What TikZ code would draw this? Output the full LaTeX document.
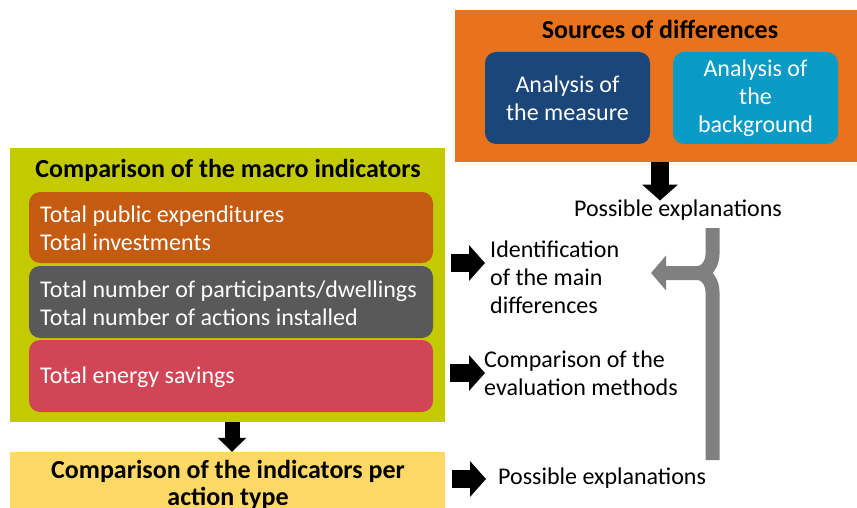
\documentclass[tikz,border=0pt]{standalone}
\usepackage{fontspec}
\setmainfont{Carlito}
\usetikzlibrary{arrows.meta}
\definecolor{cOrange}{HTML}{E8731C}
\definecolor{cBlue}{HTML}{1B4679}
\definecolor{cCyan}{HTML}{079BC5}
\definecolor{cGreen}{HTML}{C3CB00}
\definecolor{cBrown}{HTML}{C55A11}
\definecolor{cGray}{HTML}{595959}
\definecolor{cRed}{HTML}{D14557}
\definecolor{cYellow}{HTML}{FED966}
\definecolor{cArrow}{HTML}{808080}
\begin{document}
\begin{tikzpicture}[x=1pt,y=-1pt,
  txt/.style={font=\fontsize{24}{28}\selectfont, inner sep=0pt, align=left},
  ttl/.style={font=\fontsize{26}{27}\selectfont\bfseries, inner sep=0pt, align=center},
  panel/.style={draw=none, inner sep=0pt},
  rbox/.style={draw=none, inner sep=0pt, rounded corners=11pt, minimum width=404pt},
  blk/.style={draw=black, line width=18pt, -{Triangle[width=35pt,length=16pt]}},
  blks/.style={draw=black, line width=15pt, -{Triangle[width=28pt,length=14pt]}},
  gbar/.style={draw=cArrow, line width=14pt}
]
\useasboundingbox (0,0) rectangle (857,508);
\fill[white] (0,0) rectangle (857,508);

% sources of differences
\node[panel, fill=cOrange, minimum width=402pt, minimum height=152pt] (src) at (656,86) {};
\node[ttl] (srct) at (660,29) {Sources of differences};
\node[rbox, fill=cBlue, minimum width=165pt, minimum height=92pt] (meas) at (567.5,98) {};
\node[txt, align=center, text=white] (meast) at (meas.center) {Analysis of\\the measure};
\node[rbox, fill=cCyan, minimum width=165pt, minimum height=92pt] (back) at (755.5,98) {};
\node[txt, align=center, text=white] (backt) at (back.center) {Analysis of\\the\\background};

% macro indicators
\node[panel, fill=cGreen, minimum width=435pt, minimum height=274pt] (macro) at (227.5,285) {};
\node[ttl] (macrot) at (228,170) {Comparison of the macro indicators};
\node[rbox, fill=cBrown, minimum height=71pt] (r1) at (231,227.5) {};
\node[txt, text=white, anchor=west] (r1t) at (40,228) {Total public expenditures\\Total investments};
\node[rbox, fill=cGray, minimum height=72pt] (r2) at (231,302) {};
\node[txt, text=white, anchor=west] (r2t) at (40,303) {Total number of participants/dwellings\\Total number of actions installed};
\node[rbox, fill=cRed, minimum height=72pt] (r3) at (231,376) {};
\node[txt, text=white, anchor=west] (r3t) at (40,377) {Total energy savings};

% per action type
\node[panel, fill=cYellow, minimum width=435pt, minimum height=62pt] (act) at (227.5,483) {};
\node[ttl] (actt) at (228,485) {Comparison of the indicators per\\action type};

% right texts
\node[txt] (pe1) at (678,210) {Possible explanations};
\node[txt, anchor=west] (idt) at (490,277) {Identification\\of the main\\differences};
\node[txt, anchor=west] (cmp) at (484,373) {Comparison of the\\evaluation methods};
\node[txt, anchor=west] (pe2) at (498,478) {Possible explanations};

% black arrows
\draw[blk] (src.south -| 660,0) -- ([yshift=-1pt]pe1.north -| 660,0);
\draw[blks] (macro.south -| 232,0) -- (act.north -| 232,0);
\coordinate (a1s) at (451,263);
\coordinate (a1e) at (485,263);
\coordinate (a2s) at (450,373);
\coordinate (a2e) at (485,373);
\coordinate (a3s) at (452,479);
\coordinate (a3e) at (486,479);
\draw[blk] (a1s) -- (a1e);
\draw[blk] (a2s) -- (a2e);
\draw[blk] (a3s) -- (a3e);

% gray merging arrow
\coordinate (gtop) at (712.5,228);
\coordinate (gbot) at (712.5,460);
\coordinate (gj) at (697,273);
\coordinate (gtip) at (651,273);
\draw[gbar] (gbot) -- (712.5,292) to[out=90,in=0] (gj);
\draw[gbar, -{Triangle[width=34pt,length=15pt]}] (gtop) -- (712.5,254) to[out=-90,in=0] (gj) -- (gtip);
\end{tikzpicture}
\end{document}
